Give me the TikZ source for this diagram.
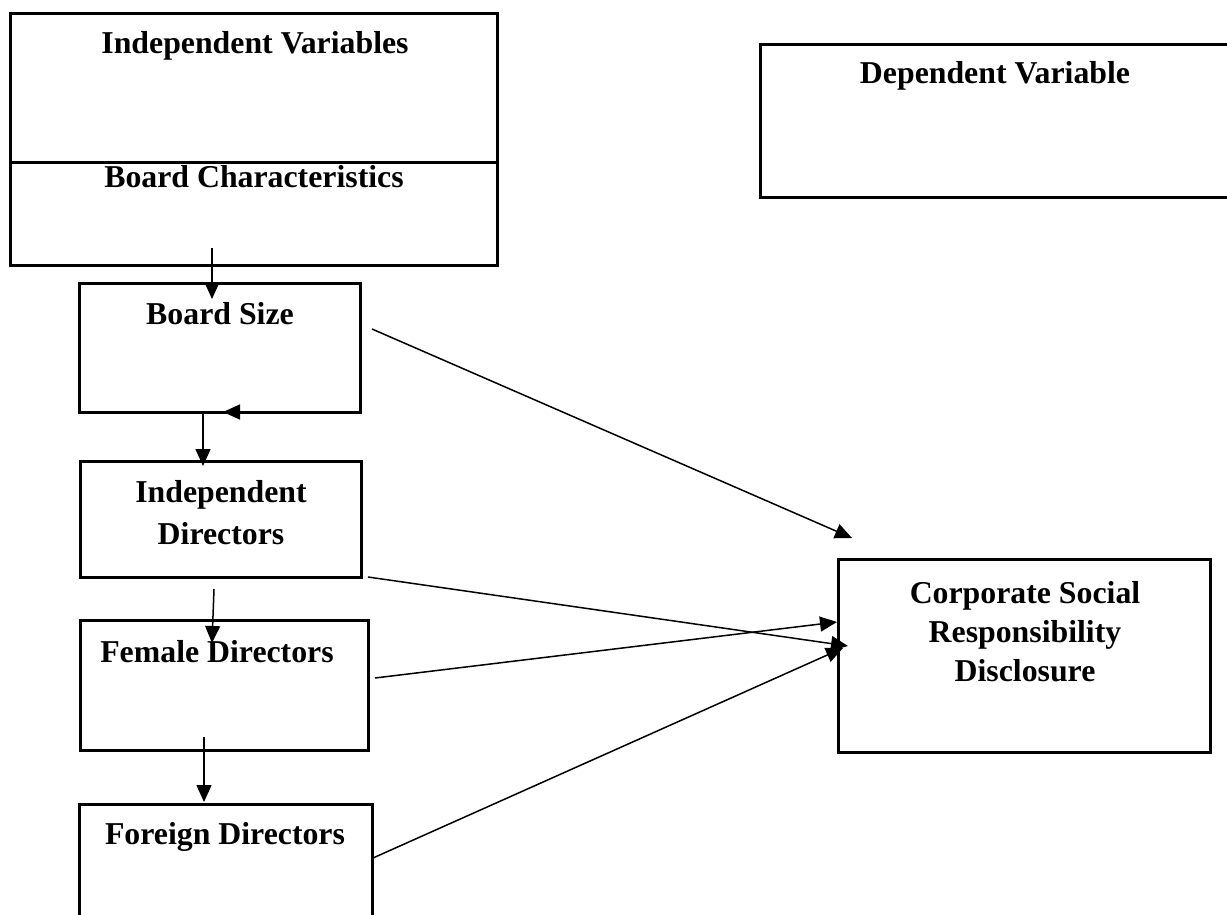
\documentclass[tikz,border=0pt]{standalone}
\usepackage{fontspec}
\setmainfont{Liberation Serif}
\usetikzlibrary{arrows.meta}
\tikzset{
  box/.style={draw, line width=1.5pt, rectangle, anchor=north west, inner sep=0pt, outer sep=0pt},
  lbl/.style={anchor=base, inner sep=0pt, font=\fontsize{15.9}{19.3}\selectfont\bfseries, align=center},
  conn/.style={line width=0.75pt, -{Triangle[length=8.5pt,width=7.5pt]}}
}
\begin{document}
\begin{tikzpicture}[x=0.5pt,y=-0.5pt]
\useasboundingbox (0,0) rectangle (1227,915);
\clip (0,0) rectangle (1227,915);
\fill[white] (0,0) rectangle (1227,915);
% boxes
\node[box, minimum width=243.5pt, minimum height=125.5pt] (top) at (10,14) {};
\node[box, minimum width=140.5pt, minimum height=64.5pt] (bs) at (79,283) {};
\node[box, minimum width=140.5pt, minimum height=58pt] (id) at (80,461) {};
\node[box, minimum width=144pt, minimum height=65pt] (fd) at (80,620) {};
\node[box, minimum width=146.5pt, minimum height=63pt] (fo) at (79,804) {};
\node[box, minimum width=240pt, minimum height=76.5pt] (dv) at (760,45) {};
\node[box, minimum width=186pt, minimum height=96.5pt] (csr) at (838,559) {};
\coordinate (divy) at (0,163);
\draw[line width=1.5pt] (top.west |- divy) -- (top.east |- divy);
% labels
\node[lbl] (tIV) at (255,54) {Independent Variables};
\node[lbl] (tBC) at (254,187) {Board Characteristics};
\node[lbl] (tBS) at (220,324) {Board Size};
\node[lbl] (tID1) at (221,502) {Independent};
\node[lbl] (tID2) at (221,544) {Directors};
\node[lbl] (tFD) at (217,662) {Female Directors};
\node[lbl] (tFO) at (225,844) {Foreign Directors};
\node[lbl] (tDV) at (995,84) {Dependent Variable};
\node[lbl] (tC1) at (1025,603) {Corporate Social};
\node[lbl] (tC2) at (1025,642) {Responsibility};
\node[lbl] (tC3) at (1025,681) {Disclosure};
% connector end points
\coordinate (v1s) at (212,248); \coordinate (v1e) at (212,299);
\coordinate (v2s) at (203,413); \coordinate (v2e) at (203,466);
\coordinate (v3s) at (214,589); \coordinate (v3e) at (212,643);
\coordinate (v4s) at (204,737); \coordinate (v4e) at (204,802);
\coordinate (hs) at (242,412); \coordinate (he) at (223,412);
\coordinate (a1s) at (372,329); \coordinate (a1e) at (852,538);
\coordinate (a2s) at (368,577); \coordinate (a2e) at (848,646);
\coordinate (a3s) at (375,678); \coordinate (a3e) at (837,622);
\coordinate (a4s) at (373,858); \coordinate (a4e) at (843,648);
% connectors
\draw[conn] (v1s) -- (v1e);
\draw[conn] (v2s) -- (v2e);
\draw[conn] (v3s) -- (v3e);
\draw[conn] (v4s) -- (v4e);
\draw[conn] (hs) -- (he);
\draw[conn] (a1s) -- (a1e);
\draw[conn] (a2s) -- (a2e);
\draw[conn] (a3s) -- (a3e);
\draw[conn] (a4s) -- (a4e);
\end{tikzpicture}
\end{document}
